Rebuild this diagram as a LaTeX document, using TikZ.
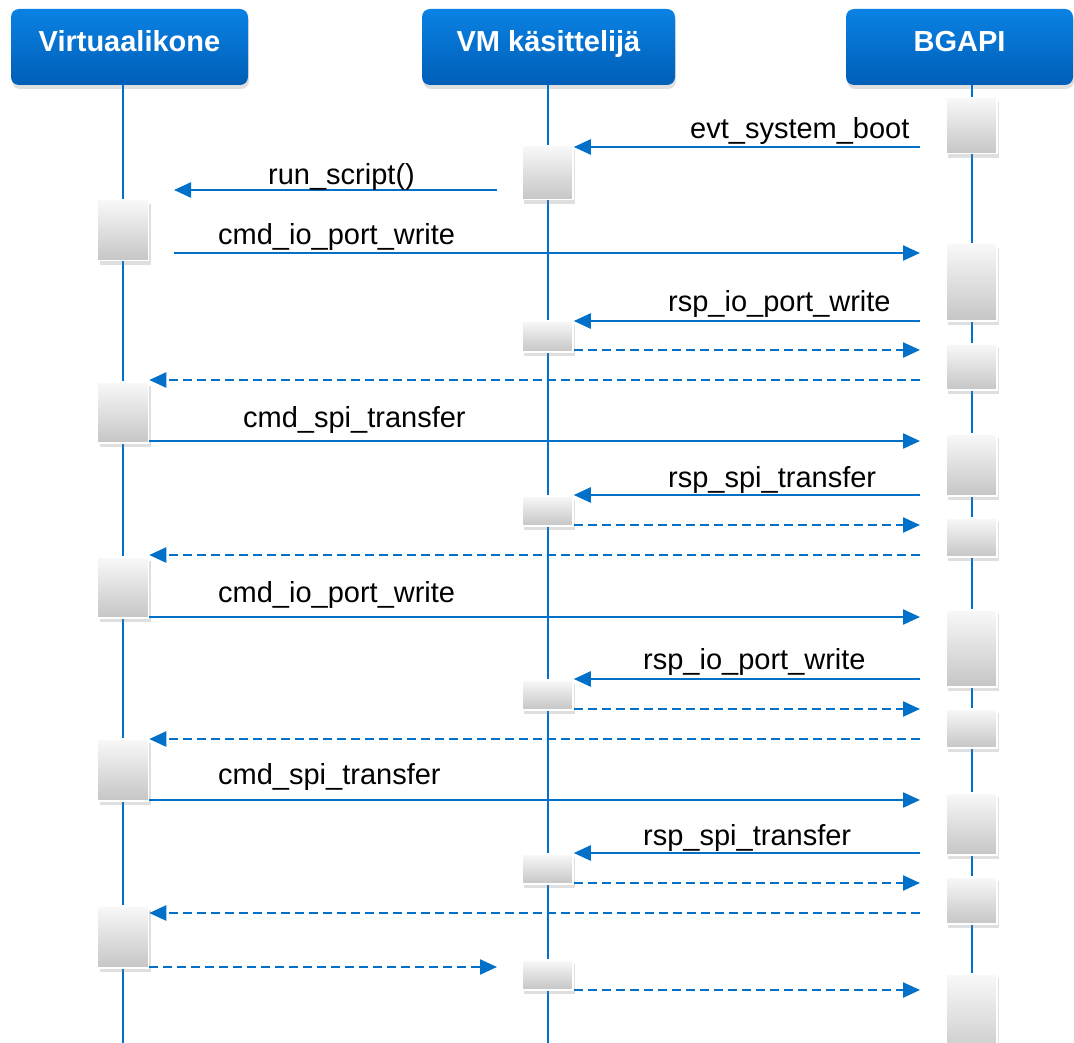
\documentclass[tikz,border=0pt]{standalone}
\usepackage{fontspec}
\setmainfont{Liberation Sans}
\usetikzlibrary{positioning, arrows.meta, shadows}
\definecolor{seqblue}{RGB}{0,112,200}
\definecolor{headtop}{RGB}{10,130,228}
\definecolor{headbot}{RGB}{0,94,182}

\begin{document}
\begin{tikzpicture}[
    x=1pt, y=-1pt,
    header/.style={rectangle, rounded corners=8pt, top color=headtop, bottom color=headbot, text=white, minimum height=76pt, text height=21pt, text depth=12pt, font=\fontsize{29}{34}\selectfont\bfseries, drop shadow={shadow xshift=1pt, shadow yshift=-4pt, opacity=0.25}},
    act/.style={rectangle, anchor=north, inner sep=0pt, minimum width=51pt, top color=gray!5, bottom color=gray!45, draw=white, line width=1.5pt, drop shadow={shadow xshift=2pt, shadow yshift=-4pt, opacity=0.25}},
    lifeline/.style={seqblue, line width=1.8pt},
    call/.style={seqblue, line width=2.4pt, -{Triangle[length=17pt, width=15pt]}},
    reply/.style={call, dash pattern=on 9pt off 5pt},
    msg/.style={anchor=base west, inner sep=0pt, font=\fontsize{29}{34}\selectfont}
]
\useasboundingbox (0,0) rectangle (1074,1043);

% Lifeline heads
\node[header, minimum width=237pt] (vk) at (129.5,47) {Virtuaalikone};
\node[header, minimum width=253pt] (vm) at (548.5,47) {VM käsittelijä};
\node[header, minimum width=227pt] (bg) at (959.5,47) {BGAPI};

% Lifelines
\coordinate (vkx) at (123,1043);
\coordinate (vmx) at (548,1043);
\coordinate (bgx) at (972,1043);
\draw[lifeline] (vk.south -| vkx) -- (vkx);
\draw[lifeline] (vm.south -| vmx) -- (vmx);
\draw[lifeline] (bg.south -| bgx) -- (bgx);

% Activations, Virtuaalikone
\node[act, minimum height=61pt] (vk1) at (123,199) {};
\node[act, minimum height=61pt] (vk2) at (123,381) {};
\node[act, minimum height=61pt] (vk3) at (123,556) {};
\node[act, minimum height=62pt] (vk4) at (123,738) {};
\node[act, minimum height=62pt] (vk5) at (123,905) {};

% Activations, VM kasittelija
\node[act, minimum height=54pt] (vm1) at (547.5,145) {};
\node[act, minimum height=31pt] (vm2) at (547.5,320) {};
\node[act, minimum height=30pt] (vm3) at (547.5,495) {};
\node[act, minimum height=30pt] (vm4) at (547.5,679) {};
\node[act, minimum height=30pt] (vm5) at (547.5,853) {};
\node[act, minimum height=30pt] (vm6) at (547.5,959) {};

% Activations, BGAPI
\node[act, minimum height=56pt] (bg1) at (971.5,97) {};
\node[act, minimum height=77pt] (bg2) at (971.5,243) {};
\node[act, minimum height=46pt] (bg3) at (971.5,343) {};
\node[act, minimum height=62pt] (bg4) at (971.5,433) {};
\node[act, minimum height=39pt] (bg5) at (971.5,517) {};
\node[act, minimum height=77pt] (bg6) at (971.5,609) {};
\node[act, minimum height=39pt] (bg7) at (971.5,708) {};
\node[act, minimum height=62pt] (bg8) at (971.5,792) {};
\node[act, minimum height=47pt] (bg9) at (971.5,876) {};
\node[act, minimum height=90pt] (bg10) at (971.5,973) {};

% Free ends of the messages
\coordinate (e1) at (920,147);
\coordinate (p2) at (497,190);
\coordinate (q2) at (174,190);
\coordinate (q3) at (174,253);
\coordinate (e3) at (920,253);
\coordinate (e4) at (920,321);
\coordinate (e5) at (920,350);
\coordinate (e6) at (920,380);
\coordinate (e7) at (920,441);
\coordinate (e8) at (920,495);
\coordinate (e9) at (920,525);
\coordinate (e10) at (920,555);
\coordinate (e11) at (920,617);
\coordinate (e12) at (920,679);
\coordinate (e13) at (920,709);
\coordinate (e14) at (920,739);
\coordinate (e15) at (920,800);
\coordinate (e16) at (920,853);
\coordinate (e17) at (920,883);
\coordinate (e18) at (920,913);
\coordinate (p19) at (497,967);
\coordinate (e20) at (920,990);

% Messages
\draw[call] (e1) -- (e1 -| vm1.east);
\draw[call] (p2) -- (q2);
\draw[call] (q3) -- (e3);
\draw[call] (e4) -- (e4 -| vm2.east);
\draw[reply] (e5 -| vm2.east) -- (e5);
\draw[reply] (e6) -- (e6 -| vk2.east);
\draw[call] (e7 -| vk2.east) -- (e7);
\draw[call] (e8) -- (e8 -| vm3.east);
\draw[reply] (e9 -| vm3.east) -- (e9);
\draw[reply] (e10) -- (e10 -| vk3.east);
\draw[call] (e11 -| vk3.east) -- (e11);
\draw[call] (e12) -- (e12 -| vm4.east);
\draw[reply] (e13 -| vm4.east) -- (e13);
\draw[reply] (e14) -- (e14 -| vk4.east);
\draw[call] (e15 -| vk4.east) -- (e15);
\draw[call] (e16) -- (e16 -| vm5.east);
\draw[reply] (e17 -| vm5.east) -- (e17);
\draw[reply] (e18) -- (e18 -| vk5.east);
\draw[reply] (p19 -| vk5.east) -- (p19);
\draw[reply] (e20 -| vm6.east) -- (e20);

% Message names
\node[msg] (l1) at (690,139) {evt\_system\_boot};
\node[msg] (l2) at (268,185) {run\_script()};
\node[msg] (l3) at (218,245) {cmd\_io\_port\_write};
\node[msg] (l4) at (668,312) {rsp\_io\_port\_write};
\node[msg] (l5) at (243,427) {cmd\_spi\_transfer};
\node[msg] (l6) at (668,487) {rsp\_spi\_transfer};
\node[msg] (l7) at (218,602) {cmd\_io\_port\_write};
\node[msg] (l8) at (643,669) {rsp\_io\_port\_write};
\node[msg] (l9) at (218,784) {cmd\_spi\_transfer};
\node[msg] (l10) at (643,845) {rsp\_spi\_transfer};

\end{tikzpicture}
\end{document}
